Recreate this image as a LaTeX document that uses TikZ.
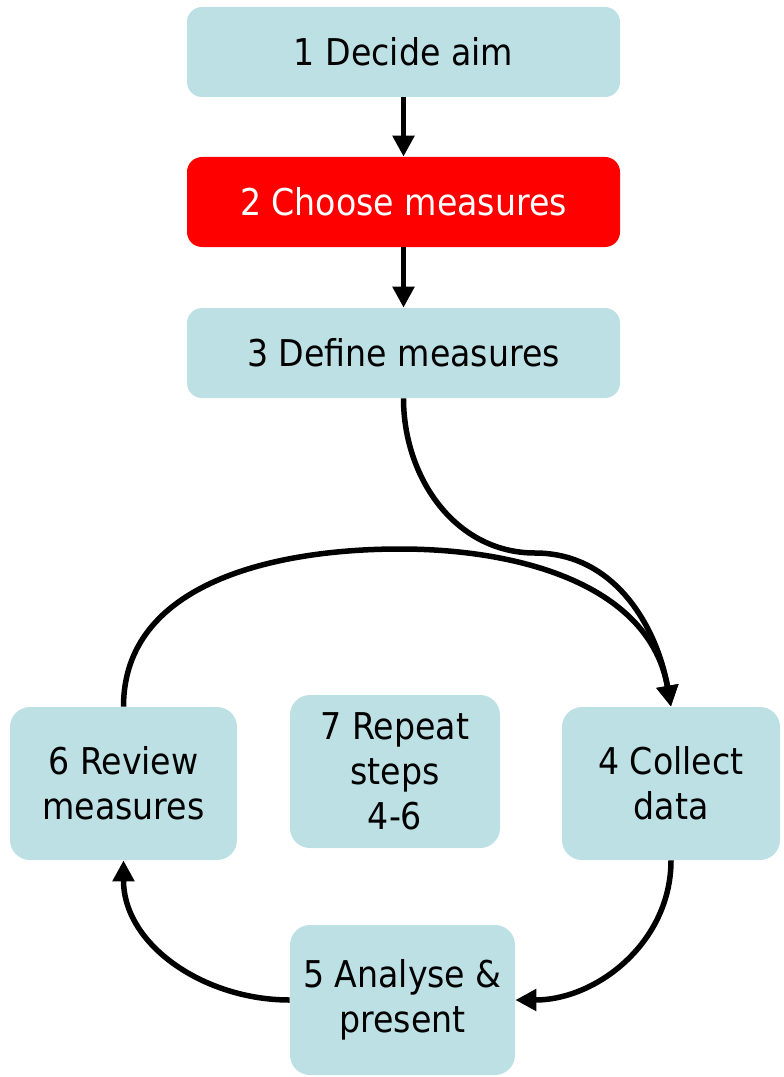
\documentclass[tikz,border=0pt]{standalone}
\usepackage{fontspec}
\setmainfont{DejaVu Sans Condensed}
\usetikzlibrary{arrows.meta}
\definecolor{stepblue}{HTML}{BCE0E4}
\definecolor{stepred}{HTML}{FF0000}
\tikzset{
	stepbox/.style={fill=stepblue, rounded corners=0.3cm, align=center, inner sep=0pt,
		font=\fontsize{21}{25.5}\selectfont},
	flow/.style={line width=0.11cm, -{Triangle[length=0.42cm,width=0.42cm]}}
}

\begin{document}
\begin{tikzpicture}
			%%%%% START %%%%%
			
			\useasboundingbox (0, 0) rectangle (15.66, -21.54);
			
			% top row of steps
			\node[stepbox, minimum width=8.66cm, minimum height=1.8cm] (decide) at (8.07, -1.04) {1 Decide aim};
			\node[stepbox, fill=stepred, text=white, minimum width=8.66cm, minimum height=1.8cm] (choose) at (8.07, -4.04) {2 Choose measures};
			\node[stepbox, minimum width=8.66cm, minimum height=1.8cm] (define) at (8.07, -7.06) {3 Define measures};
			
			% cycle
			\node[stepbox, rounded corners=0.4cm, minimum width=4.36cm, minimum height=3.06cm] (collect) at (13.42, -15.67) {4 Collect\\data};
			\node[stepbox, rounded corners=0.4cm, minimum width=4.5cm, minimum height=3.0cm] (analyse) at (8.05, -20.0) {5 Analyse \&\\present};
			\node[stepbox, rounded corners=0.4cm, minimum width=4.54cm, minimum height=3.06cm] (review) at (2.47, -15.67) {6 Review\\measures};
			\node[stepbox, rounded corners=0.4cm, minimum width=4.2cm, minimum height=3.06cm] (repeat) at (7.9, -15.43) {7 Repeat\\steps\\4-6};
			
			\coordinate (bend) at (10.7, -11.06);
			\coordinate (looptop) at (8.0, -10.98);
			
			\draw[flow] (decide) -- (choose);
			\draw[flow] (choose) -- (define);
			\draw[flow] (define.south) to[out=-90, in=180] (bend) to[out=0, in=100] (collect.north);
			\draw[flow] (review.north) to[out=90, in=180] (looptop) to[out=0, in=100] (collect.north);
			\draw[flow] (collect.south) to[out=-90, in=0] (analyse.east);
			\draw[flow] (analyse.west) to[out=180, in=-90] (review.south);
			
			%%%%% END %%%%%
\end{tikzpicture}
\end{document}
